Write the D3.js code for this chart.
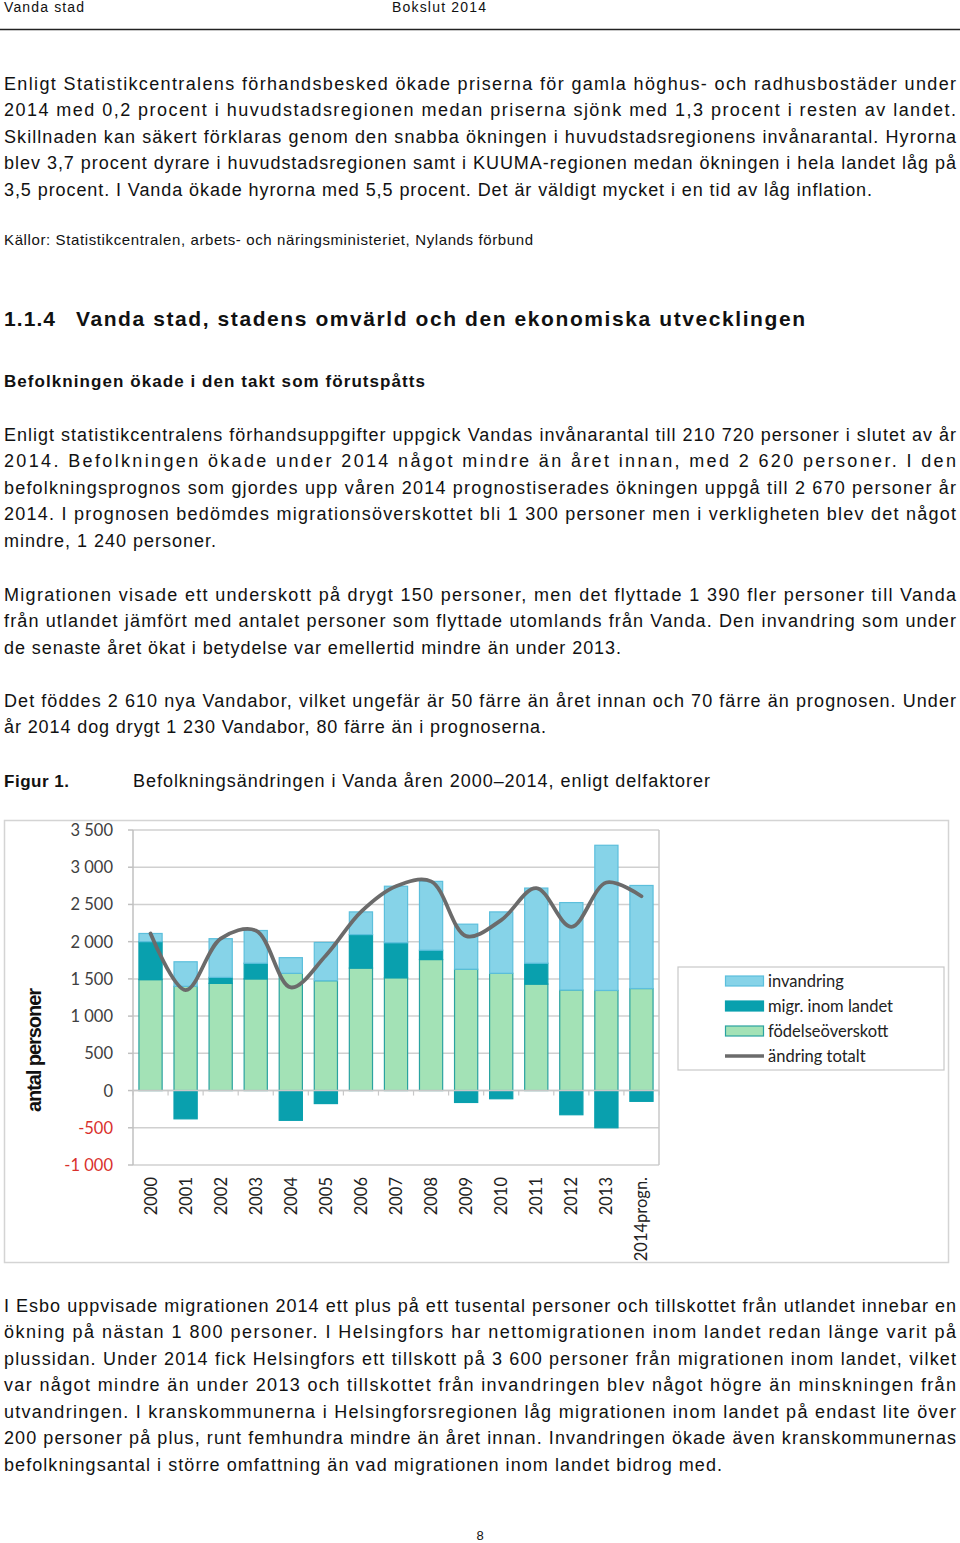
<!DOCTYPE html>
<html><head><meta charset="utf-8">
<script src="https://cdn.jsdelivr.net/npm/d3@7"></script>
<style>
html,body{margin:0;padding:0;background:#fff;}
svg{display:block;}
</style></head>
<body>
<svg id="page" width="960" height="1543"></svg>
<script>
// ---------- DATA ----------
const years = ["2000","2001","2002","2003","2004","2005","2006","2007","2008","2009","2010","2011","2012","2013","2014progn."];
const birthSurplus = [1490,1400,1440,1500,1575,1475,1645,1515,1760,1630,1575,1430,1350,1345,1370];
const domesticMigration = [510,-380,80,210,-400,-175,450,470,125,-160,-110,280,-325,-500,-145];
const immigration = [110,330,520,440,210,515,305,760,925,605,825,1010,1175,1950,1385];
const totalChange = [2110,1350,2040,2150,1385,1815,2400,2745,2810,2075,2290,2720,2200,2795,2610];
const yTicks = [-1000,-500,0,500,1000,1500,2000,2500,3000,3500];
const legendLabels = ["invandring","migr. inom landet","födelseöverskott","ändring totalt"];

// ---------- PAGE TEXT ----------
const para1 = [
 "Enligt Statistikcentralens förhandsbesked ökade priserna för gamla höghus- och radhusbostäder under",
 "2014 med 0,2 procent i huvudstadsregionen medan priserna sjönk med 1,3 procent i resten av landet.",
 "Skillnaden kan säkert förklaras genom den snabba ökningen i huvudstadsregionens invånarantal. Hyrorna",
 "blev 3,7 procent dyrare i huvudstadsregionen samt i KUUMA-regionen medan ökningen i hela landet låg på",
 "3,5 procent. I Vanda ökade hyrorna med 5,5 procent. Det är väldigt mycket i en tid av låg inflation."
];
const para2 = [
 "Enligt statistikcentralens förhandsuppgifter uppgick Vandas invånarantal till 210 720 personer i slutet av år",
 "2014. Befolkningen ökade under 2014 något mindre än året innan, med 2 620 personer. I den",
 "befolkningsprognos som gjordes upp våren 2014 prognostiserades ökningen uppgå till 2 670 personer år",
 "2014. I prognosen bedömdes migrationsöverskottet bli 1 300 personer men i verkligheten blev det något",
 "mindre, 1 240 personer."
];
const para3 = [
 "Migrationen visade ett underskott på drygt 150 personer, men det flyttade 1 390 fler personer till Vanda",
 "från utlandet jämfört med antalet personer som flyttade utomlands från Vanda. Den invandring som under",
 "de senaste året ökat i betydelse var emellertid mindre än under 2013."
];
const para4 = [
 "Det föddes 2 610 nya Vandabor, vilket ungefär är 50 färre än året innan och 70 färre än prognosen. Under",
 "år 2014 dog drygt 1 230 Vandabor, 80 färre än i prognoserna."
];
const para5 = [
 "I Esbo uppvisade migrationen 2014 ett plus på ett tusental personer och tillskottet från utlandet innebar en",
 "ökning på nästan 1 800 personer. I Helsingfors har nettomigrationen inom landet redan länge varit på",
 "plussidan. Under 2014 fick Helsingfors ett tillskott på 3 600 personer från migrationen inom landet, vilket",
 "var något mindre än under 2013 och tillskottet från invandringen blev något högre än minskningen från",
 "utvandringen. I kranskommunerna i Helsingforsregionen låg migrationen inom landet på endast lite över",
 "200 personer på plus, runt femhundra mindre än året innan. Invandringen ökade även kranskommunernas",
 "befolkningsantal i större omfattning än vad migrationen inom landet bidrog med."
];

const svg = d3.select("#page");
svg.append("rect").attr("width",960).attr("height",1543).attr("fill","#fff");

const BODY = "'Liberation Sans', Arial, sans-serif";
function txt(s, x, y, opts={}) {
  const t = svg.append("text").attr("x",x).attr("y",y).text(s)
    .attr("font-family", opts.family || BODY)
    .attr("font-size", opts.size || 18)
    .attr("fill", opts.fill || "#111");
  if (opts.weight) t.attr("font-weight", opts.weight);
  if (opts.len) t.attr("textLength", opts.len).attr("lengthAdjust","spacing");
  if (opts.anchor) t.attr("text-anchor", opts.anchor);
  return t;
}
function paragraph(lines, firstCenter, lastWidth) {
  lines.forEach((s,i) => {
    const last = i === lines.length-1;
    txt(s, 4, firstCenter + i*26.5 + 6.5, {len: last ? lastWidth : 952});
  });
}

// header
txt("Vanda stad", 4, 12, {size:14, family:"'Liberation Sans Narrow','Liberation Sans',Arial", len:80});
txt("Bokslut 2014", 392, 12, {size:14, family:"'Liberation Sans Narrow','Liberation Sans',Arial", len:94});
svg.append("line").attr("x1",0).attr("x2",960).attr("y1",29.5).attr("y2",29.5).attr("stroke","#222").attr("stroke-width",1.5);

paragraph(para1, 83, 868);
txt("Källor: Statistikcentralen, arbets- och näringsministeriet, Nylands förbund", 4, 245, {size:15, len:529});
txt("1.1.4", 4, 326, {size:21, weight:"bold", len:51});
txt("Vanda stad, stadens omvärld och den ekonomiska utvecklingen", 76, 326, {size:21, weight:"bold", len:729});
txt("Befolkningen ökade i den takt som förutspåtts", 4, 387, {size:17, weight:"bold", len:421});
paragraph(para2, 434, 212);
paragraph(para3, 594, 617);
paragraph(para4, 700, 542);
txt("Figur 1.", 4, 787, {size:17, weight:"bold", len:65});
txt("Befolkningsändringen i Vanda åren 2000\u20132014, enligt delfaktorer", 133, 787, {size:18, len:577});
paragraph(para5, 1305, 718);
txt("8", 480, 1540, {size:13, anchor:"middle"});

// ---------- CHART ----------
svg.append("rect").attr("x",4.5).attr("y",820.5).attr("width",944).attr("height",442)
  .attr("fill","#fff").attr("stroke","#d4d4d4").attr("stroke-width",1.5);

const x = d3.scaleBand().domain(years).range([133,659]).paddingInner(0.31).paddingOuter(0.155);
const y = d3.scaleLinear().domain([-1000,3500]).range([1165,830]);
const step = x.step();

const g = svg.append("g");
// gridlines
g.selectAll("line.grid").data(yTicks).join("line")
  .attr("x1",133).attr("x2",659).attr("y1",d=>y(d)).attr("y2",d=>y(d))
  .attr("stroke","#d0d0d0").attr("stroke-width",1.5);
// plot border right / left
g.append("line").attr("x1",659).attr("x2",659).attr("y1",y(3500)).attr("y2",y(-1000)).attr("stroke","#c8c8c8").attr("stroke-width",1.5);
g.append("line").attr("x1",133).attr("x2",133).attr("y1",y(3500)).attr("y2",y(-1000)).attr("stroke","#c0c0c0").attr("stroke-width",1.5);
// y ticks
g.selectAll("line.yt").data(yTicks).join("line")
  .attr("x1",128).attr("x2",133).attr("y1",d=>y(d)).attr("y2",d=>y(d))
  .attr("stroke","#c0c0c0").attr("stroke-width",1.5);

const fmt = v => {
  const a = Math.abs(v);
  const s = a >= 1000 ? Math.floor(a/1000) + " " + String(a%1000).padStart(3,"0") : String(a);
  return (v<0?"-":"") + s;
};
g.selectAll("text.yl").data(yTicks).join("text")
  .attr("x",113).attr("y",d=>y(d)+6).attr("text-anchor","end")
  .attr("font-family","Lato, 'Open Sans', sans-serif").attr("font-size",16.5)
  .attr("fill",d=>d<0?"#d9302c":"#404040")
  .text(d=>fmt(d));

// stacked bars
const rows = years.map((yr,i)=>({year:yr, births:birthSurplus[i], mig:domesticMigration[i], inv:immigration[i]}));
const stack = d3.stack().keys(["births","mig","inv"]).offset(d3.stackOffsetDiverging);
const layers = stack(rows);
const fills = {births:"#a3e2b6", mig:"#09a0ae", inv:"#86d3e8"};
const strokes = {births:"#2aa3a0", mig:"#09a0ae", inv:"#5cbfdc"};
layers.forEach(layer=>{
  g.selectAll(null).data(layer).join("rect")
    .attr("x",d=>x(d.data.year)+0.5)
    .attr("width",x.bandwidth()-1)
    .attr("y",d=>y(Math.max(d[0],d[1])))
    .attr("height",d=>Math.abs(y(d[0])-y(d[1])))
    .attr("fill",fills[layer.key])
    .attr("stroke",strokes[layer.key]).attr("stroke-width",1.2);
});

// zero axis with category tick marks
g.append("line").attr("x1",133).attr("x2",659).attr("y1",y(0)).attr("y2",y(0)).attr("stroke","#c8c8c8").attr("stroke-width",1.5);
g.selectAll("line.xt").data(d3.range(years.length+1)).join("line")
  .attr("x1",i=>133+i*step).attr("x2",i=>133+i*step)
  .attr("y1",y(0)).attr("y2",y(0)+5).attr("stroke","#c8c8c8").attr("stroke-width",1.2);

// total line
const line = d3.line().x((d,i)=>x(years[i])+x.bandwidth()/2).y(d=>y(d)).curve(d3.curveCatmullRom.alpha(0.5));
g.append("path").datum(totalChange).attr("d",line).attr("fill","none")
  .attr("stroke","#6b6b6b").attr("stroke-width",3.8).attr("stroke-linecap","round");

// x labels
g.selectAll("text.xl").data(years).join("text")
  .attr("transform",d=>`translate(${x(d)+x.bandwidth()/2+6},1177) rotate(-90)`)
  .attr("text-anchor","end")
  .attr("font-family","Lato, 'Open Sans', sans-serif").attr("font-size",16.5).attr("fill","#222")
  .text(d=>d);

// y title
svg.append("text").attr("transform","translate(41,1050) rotate(-90)")
  .attr("text-anchor","middle").attr("font-family","'Liberation Sans', Arial, sans-serif")
  .attr("font-weight","bold").attr("font-size",20).attr("fill","#111")
  .attr("textLength",124).attr("lengthAdjust","spacing")
  .text("antal personer");

// legend
const lg = svg.append("g");
lg.append("rect").attr("x",678).attr("y",967).attr("width",266).attr("height",103)
  .attr("fill","#fff").attr("stroke","#c8c8c8").attr("stroke-width",1.2);
const legendRows = [
  {label:legendLabels[0], key:"inv"},
  {label:legendLabels[1], key:"mig"},
  {label:legendLabels[2], key:"births"},
  {label:legendLabels[3], key:"line"}
];
legendRows.forEach((r,i)=>{
  const cy = 981 + i*25;
  if (r.key==="line") {
    lg.append("line").attr("x1",725).attr("x2",764).attr("y1",cy).attr("y2",cy)
      .attr("stroke","#6b6b6b").attr("stroke-width",3.5);
  } else {
    lg.append("rect").attr("x",725.5).attr("y",cy-5).attr("width",38).attr("height",10)
      .attr("fill",fills[r.key]).attr("stroke",strokes[r.key]).attr("stroke-width",1.2);
  }
  lg.append("text").attr("x",768).attr("y",cy+5.5)
    .attr("font-family","Lato, 'Open Sans', sans-serif").attr("font-size",16.5).attr("fill","#222")
    .text(r.label);
});
</script>
</body></html>
